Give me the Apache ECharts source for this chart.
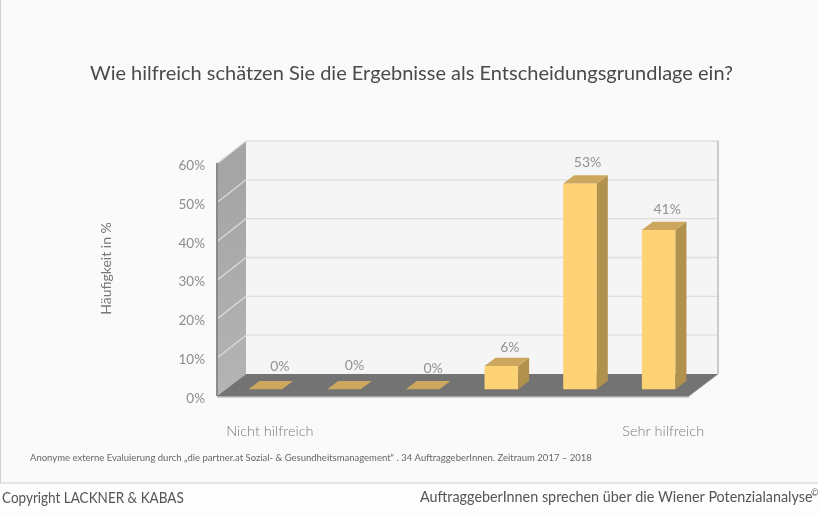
<!DOCTYPE html>
<html><head><meta charset="utf-8">
<style>html,body{margin:0;padding:0;background:#fdfdfd}#c{width:818px;height:516px}</style>
<script src="https://cdn.jsdelivr.net/npm/echarts@6/dist/echarts.min.js"></script>
</head><body><div id="c"></div>
<script>
const categories = ["Nicht hilfreich", "", "", "", "", "Sehr hilfreich"];
const values = [0, 0, 0, 6, 53, 41];
const yTicks = [0, 10, 20, 30, 40, 50, 60];
const titleText = "Wie hilfreich schätzen Sie die Ergebnisse als Entscheidungsgrundlage ein?";
const yName = "Häufigkeit in %";
const noteText = "Anonyme externe Evaluierung durch „die partner.at Sozial- & Gesundheitsmanagement“ . 34 AuftraggeberInnen. Zeitraum 2017 – 2018";
const footLeft = "Copyright LACKNER & KABAS";
const footRight = "AuftraggeberInnen sprechen über die Wiener Potenzialanalyse";

// style / layout constants
const FONT = 'Lato, "Open Sans", sans-serif';
const WALL_DX = 29, WALL_DY = 22, BAR_SHIFT_X = 9, BAR_SHIFT_Y = 6.7, BAR_W = 33.6, BAR_DX = 11, BAR_DY = 8.3;
const labelNudgeX = [9, 5, 5, 3, 2, 3], labelNudgeY = [-15, -16, -13, -10, -13, -12];

function poly(points, fill, z2) {
  return {type: 'polygon', shape: {points}, style: {fill}, z2: z2 || 0, silent: true};
}
function line(a, b, stroke, w, z2) {
  return {type: 'line', shape: {x1: a[0], y1: a[1], x2: b[0], y2: b[1]}, style: {stroke, lineWidth: w}, z2: z2 || 1, silent: true};
}
function renderWalls(params, api) {
  const cs = params.coordSys;
  const xL = cs.x, xR = cs.x + cs.width;
  const yB = api.coord([0, 0])[1], yT = api.coord([0, 60])[1];
  const c = [
    poly([[xL + WALL_DX, yT - WALL_DY], [xR + WALL_DX, yT - WALL_DY], [xR + WALL_DX, yB - WALL_DY], [xL + WALL_DX, yB - WALL_DY]], '#f5f5f5'),
    {type: 'polygon', shape: {points: [[xL, yT], [xL + WALL_DX, yT - WALL_DY], [xL + WALL_DX, yB - WALL_DY], [xL, yB]]},
     style: {fill: {type: 'linear', x: 0, y: 0, x2: 0, y2: 1, colorStops: [{offset: 0, color: '#a3a3a3'}, {offset: 1, color: '#b4b4b4'}]}}, silent: true},
    poly([[xL, yB], [xR, yB], [xR + WALL_DX, yB - WALL_DY], [xL + WALL_DX, yB - WALL_DY]], '#737373')
  ];
  yTicks.forEach(function (t) {
    const y = api.coord([0, t])[1];
    if (t > 0) {
      c.push(line([xL + WALL_DX, y - WALL_DY], [xR + WALL_DX, y - WALL_DY], '#dedede', 1.4));
      c.push(line([xL + 1, y], [xL + WALL_DX, y - WALL_DY], '#dcdcdc', 1.2));
    }
  });
  c.push(line([xL, yT], [xL, yB], '#8a8a8a', 2, 2));
  c.push(line([xL, yB + 0.7], [xR, yB + 0.7], '#a8a8a8', 1.4, 2));
  c.push(line([xR + WALL_DX, yT - WALL_DY], [xR + WALL_DX, yB - WALL_DY], '#adadad', 1.2, 2));
  c.push(line([xR, yB], [xR + WALL_DX, yB - WALL_DY], '#8d8d8d', 0.8, 2));
  return {type: 'group', children: c};
}
function renderBar(params, api) {
  const i = api.value(0), v = api.value(1);
  const p = api.coord([i, v]), p0 = api.coord([i, 0]);
  const x0 = p[0] + BAR_SHIFT_X - BAR_W / 2, x1 = x0 + BAR_W;
  const yB = p0[1] - BAR_SHIFT_Y, yT = p[1] - BAR_SHIFT_Y;
  const c = [];
  if (v > 0) {
    c.push(poly([[x0, yT], [x1, yT], [x1, yB], [x0, yB]], '#fed375', 3));
    c.push(poly([[x1, yT], [x1 + BAR_DX, yT - BAR_DY], [x1 + BAR_DX, yB - BAR_DY], [x1, yB]], '#b1914e', 3));
  }
  c.push(poly([[x0, yT], [x1, yT], [x1 + BAR_DX, yT - BAR_DY], [x0 + BAR_DX, yT - BAR_DY]], '#cca75d', 3));
  c.push({type: 'text', silent: true, z2: 4, style: {
    text: v + '%', x: x0 + (BAR_W + BAR_DX) / 2 + labelNudgeX[i], y: yT - BAR_DY + labelNudgeY[i],
    fill: '#929292', font: '14px ' + FONT, align: 'center', verticalAlign: 'middle'}});
  return {type: 'group', children: c};
}
const chart = echarts.init(document.getElementById('c'), null, {renderer: 'canvas'});
chart.setOption({
  animation: false,
  backgroundColor: '#fdfdfd',
  graphic: [
    {type: 'rect', z: -10, silent: true, shape: {x: 0, y: 0, width: 818, height: 483}, style: {fill: '#fafafa'}},
    {type: 'line', z: -9, silent: true, shape: {x1: 0.5, y1: 0, x2: 0.5, y2: 483}, style: {stroke: '#d2d2d2', lineWidth: 1}},
    {type: 'line', z: -9, silent: true, shape: {x1: 0, y1: 483, x2: 818, y2: 483}, style: {stroke: '#cfcfcf', lineWidth: 1.2}},
    {type: 'text', silent: true, left: 90, top: 64, style: {text: titleText, fill: '#4a4a4a', font: '20px ' + FONT}},
    {type: 'text', silent: true, left: 30, top: 453, style: {text: noteText, fill: '#666', font: '9.5px ' + FONT}},
    {type: 'text', silent: true, x: 2, y: 498, style: {text: footLeft, fill: '#555', font: '15px ' + FONT, verticalAlign: 'middle'}, scaleX: 0.9},
    {type: 'text', silent: true, x: 420, y: 497, style: {text: footRight, fill: '#555', font: '15px ' + FONT, verticalAlign: 'middle'}, scaleX: 0.957},
    {type: 'text', silent: true, x: 811, y: 493, style: {text: '©', fill: '#555', font: '9px ' + FONT, verticalAlign: 'middle'}}
  ],
  grid: {left: 217, right: 129, top: 163, bottom: 120, containLabel: false},
  xAxis: {type: 'category', data: categories,
    axisLine: {show: false}, axisTick: {show: false},
    axisLabel: {interval: 0, margin: 28, padding: [0, 0, 0, 27], color: '#7b7b7b', fontFamily: FONT, fontSize: 14.5, fontWeight: 300}},
  yAxis: {type: 'value', min: 0, max: 60, interval: 10,
    name: yName, nameLocation: 'middle', nameGap: 104, nameRotate: 90,
    nameTextStyle: {color: '#777', fontFamily: FONT, fontSize: 14, padding: [0, 0, 0, 22]},
    axisLine: {show: false}, axisTick: {show: false}, splitLine: {show: false},
    axisLabel: {formatter: '{value}%', margin: 12, verticalAlign: 'top', lineHeight: 5, color: '#8c8c8c', fontFamily: FONT, fontSize: 13.5}},
  series: [
    {type: 'custom', coordinateSystem: 'cartesian2d', clip: false, z: 1, data: [[0, 0]], renderItem: renderWalls, silent: true},
    {type: 'custom', coordinateSystem: 'cartesian2d', clip: false, z: 2, encode: {x: 0, y: 1},
     data: values.map(function (v, i) { return [i, v]; }), renderItem: renderBar, silent: true}
  ]
});
</script></body></html>
